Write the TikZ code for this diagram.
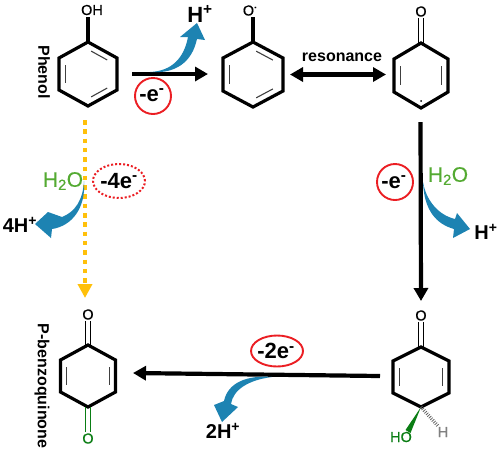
\documentclass[tikz,border=0pt]{standalone}
\usepackage{fontspec}
\setmainfont{Liberation Sans}
\newfontfamily\semi[FakeBold=0.5]{Liberation Sans}
\usetikzlibrary{arrows.meta,calc,shapes.geometric}
\definecolor{blueflow}{RGB}{29,131,178}
\definecolor{ygreen}{RGB}{84,170,50}
\definecolor{dgreen}{RGB}{10,125,20}
\definecolor{redring}{RGB}{235,30,35}
\definecolor{amber}{RGB}{255,192,10}
\newcommand{\fs}[1]{\fontsize{#1}{#1}\selectfont}
\newcommand{\ringat}[6]{% name, cx, halfwidth, ytop, yupper, ylower ; ybot derived
  \coordinate (#1c) at (#2,{(#5+#6)/2});
  \coordinate (#11) at (#2,#4);
  \coordinate (#12) at ({#2+#3},#5);
  \coordinate (#13) at ({#2+#3},#6);
  \coordinate (#14) at (#2,{#5+#6-#4});
  \coordinate (#15) at ({#2-#3},#6);
  \coordinate (#16) at ({#2-#3},#5);
  \draw[bond] (#11)--(#12)--(#13)--(#14)--(#15)--(#16)--cycle;
}
\newcommand{\inner}[3]{\draw[innerbond] ($($(#1#2)!.14!(#1#3)$)!.23!(#1c)$) -- ($($(#1#2)!.86!(#1#3)$)!.23!(#1c)$);}
\tikzset{
  bond/.style={line width=3.2pt,line join=miter,black},
  innerbond/.style={line width=1.1pt,black!75},
  flow/.style={line width=4.2pt,black,-{Triangle[length=13pt,width=14pt]}},
  bluefill/.style={fill=blueflow,draw=none},
  lab/.style={font=\bfseries\fs{16},inner sep=0pt},
  ion/.style={font=\bfseries\fs{20},inner sep=0pt},
  bigion/.style={font=\bfseries\fs{22},inner sep=0pt},
  atom/.style={font=\semi\fs{14.5},inner sep=0pt},
  loss/.style={font=\bfseries\fs{22},inner sep=0pt},
  water/.style={font=\semi\fs{21},text=ygreen,inner sep=0pt},
  halo/.style={draw=redring,line width=1.9pt,fill=none},
}
\begin{document}
\begin{tikzpicture}[x=1pt,y=-1pt]
\useasboundingbox (0,0) rectangle (500,451);
% rings
\ringat{p}{88}{29}{42}{58}{90}
\inner{p}{6}{5}\inner{p}{1}{2}\inner{p}{3}{4}
\ringat{r}{253}{30}{42}{58}{91}
\inner{r}{6}{5}\inner{r}{1}{2}\inner{r}{3}{4}
\ringat{k}{421}{27}{43}{59}{92}
\inner{k}{6}{5}\inner{k}{2}{3}
\ringat{q}{88}{27.5}{345}{360}{392}
\inner{q}{6}{5}\inner{q}{2}{3}
\ringat{h}{421}{28}{347}{361}{393}
\inner{h}{6}{5}\inner{h}{2}{3}
% atoms
\node[atom] (oh) at (92,10) {OH};
\node[atom] (orad) at (250,10.5) {O\raisebox{5pt}{\fs{9}\bfseries·}};
\node[atom] (o3) at (421,11.5) {O};
\node[atom] (o4) at (88,314.5) {O};
\node[atom,text=dgreen] (o5) at (88,438.5) {O};
\node[atom] (o6) at (421,315.5) {O};
\node[atom,text=dgreen] (ho) at (401,437) {HO};
\node[atom,text=black!50] (hh) at (443,432) {H};
\fill (421,101) circle (1pt);
% exocyclic bonds
\coordinate (ohb) at (88,17);
\draw[line width=3.2pt] (p1)--(ohb);
\coordinate (orb) at (253,17);
\draw[line width=3.2pt] (r1)--(orb);
\draw[line width=1.6pt] ($(k1)+(-2.5,0)$)--($(o3.south)+(-2.5,1)$) ($(k1)+(2.5,0)$)--($(o3.south)+(2.5,1)$);
\draw[line width=1.6pt] ($(q1)+(-2.5,0)$)--($(o4.south)+(-2.5,1)$) ($(q1)+(2.5,0)$)--($(o4.south)+(2.5,1)$);
\draw[line width=1.8pt,dgreen] ($(q4)+(-2.5,0)$)--($(o5.north)+(-2.5,-1)$) ($(q4)+(2.5,0)$)--($(o5.north)+(2.5,-1)$);
\draw[line width=1.6pt] ($(h1)+(-2.5,0)$)--($(o6.south)+(-2.5,1)$) ($(h1)+(2.5,0)$)--($(o6.south)+(2.5,1)$);
\fill[dgreen] (h4)--(405.5,430)--(410.5,433)--cycle;
\draw[black!60,line width=3.5pt,dash pattern=on 0.8pt off 1.4pt] (h4)--(438,426);
% arrows
\coordinate (a1s) at (132,74); \coordinate (a1e) at (208,74);
\draw[flow] (a1s)--(a1e);
\coordinate (a2s) at (290,74.5); \coordinate (a2e) at (386,74.5);
\draw[flow,{Triangle[length=13pt,width=14pt]}-{Triangle[length=13pt,width=14pt]}] (a2s)--(a2e);
\coordinate (a3s) at (420.5,122); \coordinate (a3e) at (421,301);
\draw[flow] (a3s)--(a3e);
\coordinate (a4s) at (380,376); \coordinate (a4e) at (133,373);
\draw[flow] (a4s)--(a4e);
\coordinate (a5s) at (85,120); \coordinate (a5e) at (85,298);
\draw[line width=4.2pt,amber,dash pattern=on 4.5pt off 4.8pt,-{Triangle[length=14pt,width=14pt,sep=0pt]}] (a5s)--(a5e);
% blue curved arrows
\fill[bluefill] (150,72) .. controls (172,71) and (184,58) .. (188,37) -- (180,37) -- (197,23) -- (205,40) -- (197,39) .. controls (192,62) and (176,74) .. (150,72) -- cycle;
\fill[bluefill] (84,181) .. controls (83,200) and (75,212) .. (62,217) -- (48,212) -- (35,224) -- (51,238) -- (52,229) .. controls (72,226) and (86,208) .. (84,181) -- cycle;
\fill[bluefill] (423,182) .. controls (426,200) and (438,215) .. (455,219) -- (457,213) -- (470,229) -- (453,238) -- (454,229) .. controls (436,224) and (424,210) .. (423,182) -- cycle;
\fill[bluefill] (272,377) .. controls (248,375) and (228,382) .. (224,401) -- (214,405) -- (222,422) -- (238,407) -- (231,404) .. controls (233,390) and (248,380) .. (272,377) -- cycle;
% labels
\node[lab,rotate=-90] (phenol) at (44,72) {Phenol};
\node[lab,rotate=-90] (pbq) at (42,386) {P-benzoquinone};
\node[lab] (res) at (342,57) {resonance};
\node[bigion] (hp1) at (200,14) {H\textsuperscript{+}};
\node[ion] (hp2) at (486,232) {H\textsuperscript{+}};
\node[ion] (hp4) at (20,225) {4H\textsuperscript{+}};
\node[ion] (hp5) at (223,431) {2H\textsuperscript{+}};
\node[water] (w1) at (63,181) {H\textsubscript{2}O};
\node[water] (w2) at (448,176) {H\textsubscript{2}O};
\node[loss] (l1) at (152,95) {-e\textsuperscript{-}};
\node[loss] (l2) at (394,182) {-e\textsuperscript{-}};
\node[loss] (l4) at (119,181) {-4e\textsuperscript{-}};
\node[loss] (l5) at (276,351) {-2e\textsuperscript{-}};
\node[halo,circle,minimum size=36pt] (c1) at (153,96) {};
\node[halo,circle,minimum size=36pt] (c2) at (395,182) {};
\node[draw=redring,line width=2pt,dash pattern=on 2pt off 2pt,ellipse,minimum width=52pt,minimum height=34pt] (c4) at (119,181) {};
\node[halo,ellipse,minimum width=52pt,minimum height=31pt] (c5) at (277,351) {};
\end{tikzpicture}
\end{document}
